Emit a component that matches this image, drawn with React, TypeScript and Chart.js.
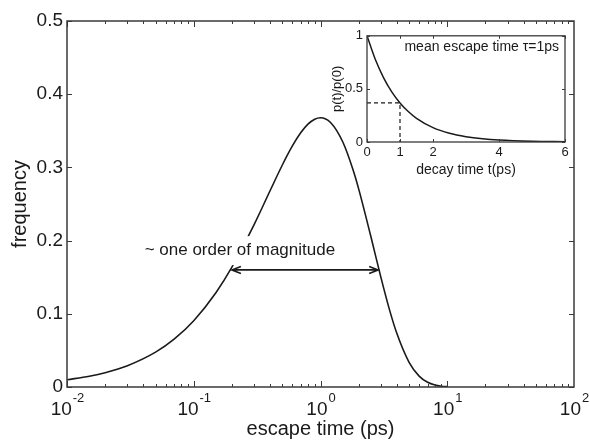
import React, { useEffect, useRef } from "react";
import { Chart, registerables } from "chart.js";

Chart.register(...registerables);

// ---------- main plot data ----------
const escapeTime = [
  0.01, 0.015, 0.02, 0.03, 0.05, 0.07, 0.1, 0.15, 0.2, 0.3, 0.4, 0.5, 0.6, 0.7,
  0.8, 0.9, 1.0, 1.2, 1.5, 1.8, 2.0, 2.5, 3.0, 3.5, 4.0, 5.0, 6.0, 7.0, 8.0, 9.0, 10.0,
];
const frequency = [
  0.0099, 0.0148, 0.0196, 0.0291, 0.0476, 0.0653, 0.0905, 0.1291, 0.1637, 0.2222,
  0.2681, 0.3033, 0.3293, 0.3476, 0.3595, 0.3659, 0.3679, 0.3614, 0.3347, 0.2975,
  0.2707, 0.2052, 0.1494, 0.1057, 0.0733, 0.0337, 0.0149, 0.0064, 0.0027, 0.0011, 0.0005,
];
const xDecades = [0.01, 0.1, 1, 10, 100];
const xExponents = ["-2", "-1", "0", "1", "2"];
const yTicks = [0, 0.1, 0.2, 0.3, 0.4, 0.5];
const arrowX = [0.2, 2.85];
const arrowY = 0.16;
const annotationX = 0.041;
const annotationY = 0.187;
const annotationText = "~ one order of magnitude";
const xTitle = "escape time (ps)";
const yTitle = "frequency";

// ---------- inset data ----------
const decayTime = [0, 0.25, 0.5, 0.75, 1, 1.25, 1.5, 2, 2.5, 3, 3.5, 4, 5, 6];
const decayValue = [1, 0.779, 0.607, 0.472, 0.368, 0.287, 0.223, 0.135, 0.082, 0.05, 0.03, 0.018, 0.0067, 0.0025];
const markerT = [0, 1, 1];
const markerP = [0.368, 0.368, 0];
const insetXTicks = [0, 1, 2, 4, 6];
const insetYTicks = [0, 0.5, 1];
const insetTitle = "mean escape time \u03c4=1ps";
const insetXTitle = "decay time t(ps)";
const insetYTitle = "p(t)/p(0)";

const FONT = '"Liberation Sans", Arial, Helvetica, sans-serif';
const AXIS = "#3a3a3a";
const INK = "#1a1a1a";

const mainDecor = {
  id: "mainDecor",
  afterDatasetsDraw(chart: any) {
    const { ctx, scales } = chart;
    const x = scales.x;
    const y = scales.y;
    ctx.save();
    // annotation text with white background
    ctx.font = `17px ${FONT}`;
    const tx = x.getPixelForValue(annotationX);
    const ty = y.getPixelForValue(annotationY);
    const w = ctx.measureText(annotationText).width;
    ctx.fillStyle = "#ffffff";
    ctx.fillRect(tx - 2, ty - 14, w + 4, 29);
    ctx.fillStyle = INK;
    ctx.textBaseline = "middle";
    ctx.textAlign = "left";
    ctx.fillText(annotationText, tx, ty);
    // double arrow
    const x1 = x.getPixelForValue(arrowX[0]);
    const x2 = x.getPixelForValue(arrowX[1]);
    const ay = y.getPixelForValue(arrowY);
    ctx.strokeStyle = INK;
    ctx.lineWidth = 1.6;
    ctx.beginPath();
    ctx.moveTo(x1, ay);
    ctx.lineTo(x2, ay);
    ctx.moveTo(x1 + 9, ay - 3.5);
    ctx.lineTo(x1, ay);
    ctx.lineTo(x1 + 9, ay + 3.5);
    ctx.moveTo(x2 - 9, ay - 3.5);
    ctx.lineTo(x2, ay);
    ctx.lineTo(x2 - 9, ay + 3.5);
    ctx.stroke();
    ctx.restore();
  },
  afterDraw(chart: any) {
    const { ctx, chartArea: a, scales } = chart;
    const x = scales.x;
    const y = scales.y;
    ctx.save();
    ctx.strokeStyle = AXIS;
    ctx.lineWidth = 1.5;
    ctx.strokeRect(a.left, a.top, a.right - a.left, a.bottom - a.top);
    ctx.lineWidth = 1;
    ctx.beginPath();
    for (let d = -2; d < 2; d++) {
      for (let m = 1; m <= 9; m++) {
        const v = m * Math.pow(10, d);
        const px = Math.round(x.getPixelForValue(v)) + 0.5;
        const len = m === 1 ? 6 : 3;
        ctx.moveTo(px, a.bottom);
        ctx.lineTo(px, a.bottom - len);
        ctx.moveTo(px, a.top);
        ctx.lineTo(px, a.top + len);
      }
    }
    for (const t of yTicks) {
      const py = Math.round(y.getPixelForValue(t)) + 0.5;
      ctx.moveTo(a.left, py);
      ctx.lineTo(a.left + 5, py);
      ctx.moveTo(a.right, py);
      ctx.lineTo(a.right - 5, py);
    }
    ctx.stroke();
    // x tick labels 10^n
    ctx.fillStyle = INK;
    ctx.textBaseline = "alphabetic";
    ctx.textAlign = "left";
    xDecades.forEach((v, i) => {
      const px = x.getPixelForValue(v);
      ctx.font = `19px ${FONT}`;
      const wb = ctx.measureText("10").width;
      ctx.font = `13px ${FONT}`;
      const we = ctx.measureText(xExponents[i]).width;
      const left = px - (wb + we) / 2;
      ctx.font = `19px ${FONT}`;
      ctx.fillText("10", left, a.bottom + 28);
      ctx.font = `13px ${FONT}`;
      ctx.fillText(xExponents[i], left + wb + 1, a.bottom + 15);
    });
    ctx.restore();
  },
};

const insetDecor = {
  id: "insetDecor",
  afterDraw(chart: any) {
    const { ctx, chartArea: a, scales } = chart;
    const x = scales.x;
    const y = scales.y;
    ctx.save();
    ctx.strokeStyle = AXIS;
    ctx.lineWidth = 1.3;
    ctx.strokeRect(a.left, a.top, a.right - a.left, a.bottom - a.top);
    ctx.lineWidth = 1;
    ctx.beginPath();
    for (const t of insetXTicks) {
      const px = Math.round(x.getPixelForValue(t)) + 0.5;
      ctx.moveTo(px, a.bottom);
      ctx.lineTo(px, a.bottom - 3);
      ctx.moveTo(px, a.top);
      ctx.lineTo(px, a.top + 3);
    }
    for (const t of insetYTicks) {
      const py = Math.round(y.getPixelForValue(t)) + 0.5;
      ctx.moveTo(a.left, py);
      ctx.lineTo(a.left + 3, py);
      ctx.moveTo(a.right, py);
      ctx.lineTo(a.right - 3, py);
    }
    ctx.stroke();
    ctx.fillStyle = INK;
    ctx.font = `14px ${FONT}`;
    ctx.textAlign = "right";
    ctx.textBaseline = "middle";
    ctx.fillText(insetTitle, a.right - 6, a.top + 11);
    ctx.restore();
  },
};

function MainChart() {
  const ref = useRef<HTMLCanvasElement>(null);
  useEffect(() => {
    const chart = new Chart(ref.current as HTMLCanvasElement, {
      type: "line",
      data: {
        datasets: [
          {
            data: escapeTime.map((t, i) => ({ x: t, y: frequency[i] })),
            borderColor: INK,
            borderWidth: 1.6,
            pointRadius: 0,
            tension: 0.4,
            cubicInterpolationMode: "monotone",
            fill: false,
          },
        ],
      },
      options: {
        responsive: false,
        animation: false,
        devicePixelRatio: 1,
        layout: { padding: { top: 21, right: 16, left: 0, bottom: 0 } },
        plugins: { legend: { display: false }, tooltip: { enabled: false } },
        scales: {
          x: {
            type: "logarithmic",
            min: 0.01,
            max: 100,
            grid: { display: false, drawTicks: false },
            border: { display: false },
            ticks: { callback: () => "" },
            afterFit: (s: any) => {
              s.height = 55;
            },
            title: {
              display: true,
              text: xTitle,
              color: INK,
              font: { family: FONT, size: 20 },
              padding: { top: 0, bottom: 1 },
            },
          },
          y: {
            type: "linear",
            min: 0,
            max: 0.5,
            grid: { display: false, drawTicks: false },
            border: { display: false },
            afterBuildTicks: (s: any) => {
              s.ticks = yTicks.map((v) => ({ value: v }));
            },
            ticks: {
              padding: 4,
              color: INK,
              font: { family: FONT, size: 19 },
              callback: (v: any) => String(v),
            },
            afterFit: (s: any) => {
              s.width = 67;
            },
            title: {
              display: true,
              text: yTitle,
              color: INK,
              font: { family: FONT, size: 20 },
              padding: { top: 8, bottom: 0 },
            },
          },
        },
      },
      plugins: [mainDecor],
    } as any);
    return () => chart.destroy();
  }, []);
  return (
    <canvas
      ref={ref}
      width={590}
      height={442}
      style={{ position: "absolute", left: 0, top: 0, width: 590, height: 442 }}
    />
  );
}

function InsetChart() {
  const ref = useRef<HTMLCanvasElement>(null);
  useEffect(() => {
    const chart = new Chart(ref.current as HTMLCanvasElement, {
      type: "line",
      data: {
        datasets: [
          {
            data: decayTime.map((t, i) => ({ x: t, y: decayValue[i] })),
            borderColor: INK,
            borderWidth: 1.5,
            pointRadius: 0,
            tension: 0.4,
            cubicInterpolationMode: "monotone",
            fill: false,
          },
          {
            data: markerT.map((t, i) => ({ x: t, y: markerP[i] })),
            borderColor: INK,
            borderWidth: 1.2,
            borderDash: [4, 3],
            pointRadius: 0,
            tension: 0,
            fill: false,
          },
        ],
      },
      options: {
        responsive: false,
        animation: false,
        devicePixelRatio: 1,
        layout: { padding: { top: 6, right: 10, left: 0, bottom: 0 } },
        plugins: { legend: { display: false }, tooltip: { enabled: false } },
        scales: {
          x: {
            type: "linear",
            min: 0,
            max: 6,
            grid: { display: false, drawTicks: false },
            border: { display: false },
            afterBuildTicks: (s: any) => {
              s.ticks = insetXTicks.map((v) => ({ value: v }));
            },
            ticks: {
              padding: 3,
              color: INK,
              maxRotation: 0,
              autoSkip: false,
              font: { family: FONT, size: 13 },
              callback: (v: any) => String(v),
            },
            afterFit: (s: any) => {
              s.height = 42;
            },
            title: {
              display: true,
              text: insetXTitle,
              color: INK,
              font: { family: FONT, size: 14 },
              padding: { top: 0, bottom: 5 },
            },
          },
          y: {
            type: "linear",
            min: 0,
            max: 1,
            grid: { display: false, drawTicks: false },
            border: { display: false },
            afterBuildTicks: (s: any) => {
              s.ticks = insetYTicks.map((v) => ({ value: v }));
            },
            ticks: {
              padding: 4,
              color: INK,
              font: { family: FONT, size: 13 },
              callback: (v: any) => String(v),
            },
            afterFit: (s: any) => {
              s.width = 39;
            },
            title: {
              display: true,
              text: insetYTitle,
              color: INK,
              font: { family: FONT, size: 13 },
              padding: { top: 2, bottom: 0 },
            },
          },
        },
      },
      plugins: [insetDecor],
    } as any);
    return () => chart.destroy();
  }, []);
  return (
    <canvas
      ref={ref}
      width={247}
      height={160}
      style={{ position: "absolute", left: 328, top: 24, width: 247, height: 160 }}
    />
  );
}

export default function App() {
  return (
    <div
      style={{
        position: "fixed",
        left: 0,
        top: 0,
        width: 590,
        height: 442,
        background: "#ffffff",
        overflow: "hidden",
      }}
    >
      <MainChart />
      <InsetChart />
    </div>
  );
}
